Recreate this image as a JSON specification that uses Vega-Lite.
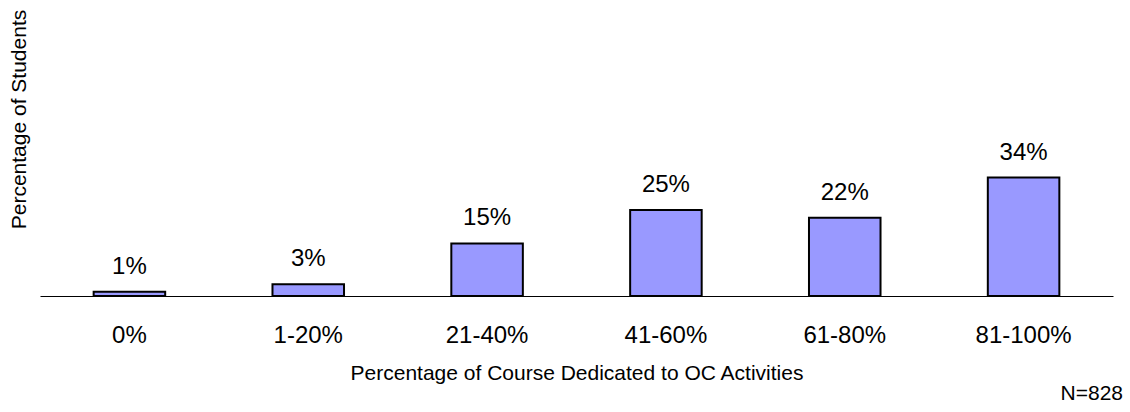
{
  "$schema": "https://vega.github.io/schema/vega-lite/v6.json",
  "width": 1073,
  "height": 296,
  "autosize": {"type": "none"},
  "padding": {"left": 40, "top": 0, "right": 17, "bottom": 116},
  "background": "white",
  "config": {
    "view": {"stroke": null},
    "font": "Liberation Sans",
    "text": {"font": "Liberation Sans"}
  },
  "title": {
    "text": "N=828",
    "orient": "bottom",
    "anchor": "end",
    "font": "Liberation Sans",
    "fontSize": 21,
    "fontWeight": "normal",
    "color": "black",
    "baseline": "alphabetic",
    "offset": 17,
    "dx": 10
  },
  "data": {
    "values": [
      {"category": "0%", "pct": 1.2, "label": "1%"},
      {"category": "1-20%", "pct": 3.4, "label": "3%"},
      {"category": "21-40%", "pct": 15.1, "label": "15%"},
      {"category": "41-60%", "pct": 24.7, "label": "25%"},
      {"category": "61-80%", "pct": 22.5, "label": "22%"},
      {"category": "81-100%", "pct": 34, "label": "34%"}
    ]
  },
  "encoding": {
    "x": {
      "field": "category",
      "type": "nominal",
      "sort": null,
      "scale": {"paddingInner": 0.6, "paddingOuter": 0.3},
      "axis": {
        "title": "Percentage of Course Dedicated to OC Activities",
        "titleFont": "Liberation Sans",
        "titleFontSize": 21,
        "titleFontWeight": "normal",
        "titleColor": "black",
        "titleBaseline": "alphabetic",
        "titleY": 83,
        "labelAngle": 0,
        "labelFont": "Liberation Sans",
        "labelFontSize": 24,
        "labelColor": "black",
        "labelPadding": 27,
        "ticks": false,
        "domainColor": "black",
        "domainWidth": 1,
        "grid": false
      }
    },
    "y": {
      "field": "pct",
      "type": "quantitative",
      "scale": {"domain": [0, 85], "nice": false},
      "axis": {
        "title": "Percentage of Students",
        "titleFont": "Liberation Sans",
        "titleFontSize": 21,
        "titleFontWeight": "normal",
        "titleColor": "black",
        "titleX": -15,
        "titleY": 119,
        "titleAlign": "center",
        "titleBaseline": "alphabetic",
        "titleAngle": -90,
        "labels": false,
        "ticks": false,
        "domain": false,
        "grid": false
      }
    }
  },
  "layer": [
    {
      "mark": {"type": "bar", "fill": "#9999FF", "stroke": "black", "strokeWidth": 2}
    },
    {
      "mark": {"type": "text", "baseline": "alphabetic", "dy": -18, "fontSize": 24, "color": "black", "font": "Liberation Sans"},
      "encoding": {"text": {"field": "label"}}
    }
  ]
}
